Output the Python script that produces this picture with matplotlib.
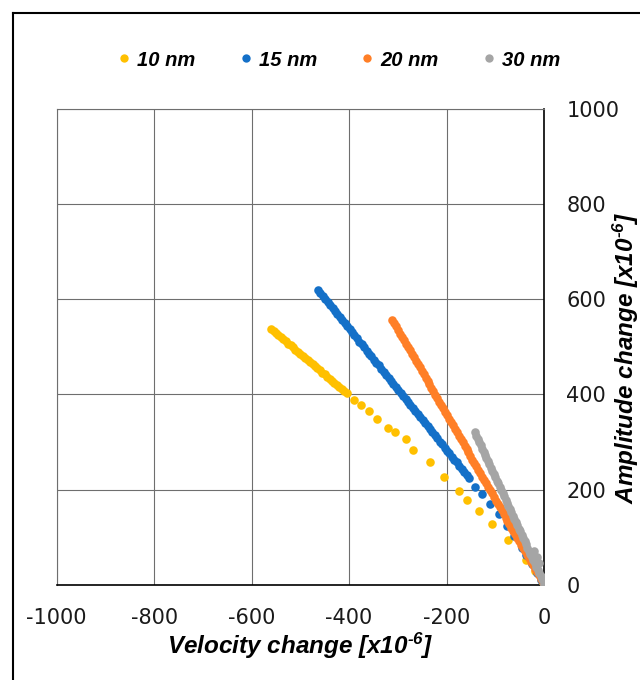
import matplotlib
matplotlib.use('Agg')
import matplotlib.pyplot as plt
from matplotlib.lines import Line2D

plt.rcParams['font.family'] = 'DejaVu Sans'
plt.rcParams['axes.unicode_minus'] = False
plt.rcParams['mathtext.fontset'] = 'custom'
plt.rcParams['mathtext.bf'] = 'Liberation Sans:italic:bold'
plt.rcParams['mathtext.default'] = 'bf'

# --- data (velocity change, amplitude change, x10^-6) ---
series_names = ['10 nm', '15 nm', '20 nm', '30 nm']
series_colors = ['#FFC000', '#1470C8', '#FF7F27', '#A5A5A5']

vel_10 = [-560, -555, -550, -545, -540, -535, -530, -525, -520, -515, -510, -505,
          -500, -495, -490, -485, -480, -475, -470, -465, -460, -455, -450, -445,
          -440, -435, -430, -425, -420, -415, -410, -405,
          -389, -375, -360, -343, -320, -306, -284, -269, -234, -205, -174, -157,
          -133, -106, -73, -36, -18, -5]
amp_10 = [538, 534, 529, 525, 521, 516, 512, 507, 503, 499, 494, 490,
          486, 481, 477, 472, 468, 464, 459, 455, 451, 446, 442, 437,
          433, 429, 424, 420, 416, 411, 407, 403,
          388, 377, 366, 348, 329, 322, 307, 284, 257, 227, 198, 178,
          154, 128, 94, 52, 28, 8]

vel_15 = [-464, -459, -454, -449, -444, -439, -434, -429, -424, -419, -414, -409,
          -404, -399, -394, -389, -384, -379, -374, -369, -364, -359, -354, -349,
          -344, -339, -334, -329, -324, -319, -314, -309, -304, -299, -294, -289,
          -284, -279, -274, -269, -264, -259, -254, -249, -244, -239, -234, -229,
          -224, -219, -214, -209, -204, -199, -194, -189, -184, -179, -174, -169,
          -164, -159, -154,
          -141, -127, -111, -93, -76, -62, -46, -36, -25, -15, -6]
amp_15 = [620, 614, 607, 601, 594, 588, 582, 575, 569, 563, 556, 550,
          543, 537, 531, 524, 518, 511, 505, 499, 492, 486, 480, 473,
          467, 461, 454, 448, 441, 435, 429, 422, 416, 410, 403, 397,
          390, 384, 378, 371, 365, 359, 352, 346, 339, 333, 327, 320,
          314, 308, 301, 295, 288, 282, 276, 269, 263, 257, 250, 244,
          237, 231, 225,
          206, 191, 169, 148, 124, 103, 78, 62, 43, 25, 10]

vel_20 = [-311, -307, -303, -299, -295, -291, -287, -283, -279, -275, -271, -267,
          -263, -259, -255, -251, -247, -243, -239, -235, -231, -227, -223, -219,
          -215, -211, -207, -203, -199, -195, -191, -187, -183, -179, -175, -171,
          -167, -163, -159, -155, -151, -147, -143, -139, -135, -131, -127, -123,
          -119, -115, -111, -107, -103, -99, -95, -91, -87, -83, -79, -75,
          -71, -67, -63, -59, -55, -51, -47, -43, -39, -35, -31, -27,
          -23, -19, -15, -11, -7, -3, 0]
amp_20 = [557, 550, 543, 536, 528, 521, 514, 507, 500, 493, 485, 478,
          471, 464, 457, 450, 442, 435, 428, 421, 414, 407, 399, 392,
          385, 378, 371, 364, 356, 349, 342, 335, 328, 321, 313, 306,
          299, 292, 285, 278, 270, 263, 256, 249, 242, 235, 227, 220,
          213, 206, 199, 192, 184, 177, 170, 163, 156, 149, 141, 134,
          127, 120, 113, 106, 99, 91, 84, 77, 70, 63, 56, 48,
          41, 34, 27, 20, 13, 5, 1]

vel_30 = [-142, -139, -136, -133, -130, -127, -124, -121, -118, -115, -112, -109,
          -106, -103, -100, -97, -94, -91, -88, -85, -82, -79, -76, -73,
          -70, -67, -64, -61, -58, -55, -52, -49, -46, -43, -40, -37,
          -34, -31, -28, -25, -22, -19, -16, -13, -10, -7, -4, -1,
          -20, -14, -10, 0]
amp_30 = [320, 313, 307, 300, 293, 286, 280, 273, 266, 260, 253, 246,
          239, 233, 226, 219, 213, 206, 199, 192, 186, 179, 172, 166,
          159, 152, 145, 139, 132, 125, 118, 112, 105, 98, 92, 85,
          78, 71, 65, 58, 51, 45, 38, 31, 24, 18, 11, 4,
          71, 58, 45, 0]

all_vel = [vel_10, vel_15, vel_20, vel_30]
all_amp = [amp_10, amp_15, amp_20, amp_30]

fig = plt.figure(figsize=(6.4, 6.8), dpi=100)
ax = fig.add_axes([56.7 / 640, 1 - 584.7 / 680, (544 - 56.7) / 640, (584.7 - 109) / 680])

for vx, ay, name, col in zip(all_vel, all_amp, series_names, series_colors):
    ax.scatter(vx, ay, s=38, color=col, linewidths=0, label=name, zorder=3)

ax.set_xlim(-1000, 0)
ax.set_ylim(0, 1000)
ax.set_xticks(range(-1000, 1, 200))
ax.set_yticks(range(0, 1001, 200))
ax.yaxis.tick_right()
ax.yaxis.set_label_position('right')
ax.tick_params(axis='both', length=0, labelsize=15, colors='#1a1a1a')
ax.tick_params(axis='x', pad=17)
ax.tick_params(axis='y', pad=16)

ax.grid(True, color='#6e6e6e', linewidth=0.8, zorder=0)
ax.set_axisbelow(True)
for side in ['top', 'left']:
    ax.spines[side].set_color('#6e6e6e')
    ax.spines[side].set_linewidth(0.8)
for side in ['bottom', 'right']:
    ax.spines[side].set_color('black')
    ax.spines[side].set_linewidth(1.2)

label_font = dict(family='Liberation Sans', weight='bold', style='italic', size=17.5)
ax.set_xlabel('Velocity change [x10$^{\u2010 6}$]', labelpad=2, **label_font)
ax.set_ylabel('Amplitude change [x10$^{\u2010 6}$]', rotation=90, ha='center', va='center',
              **label_font)
ax.yaxis.set_label_coords((626 - 56.7) / 487.3, (584.7 - 358) / 475.7)

handles = [Line2D([], [], marker='o', linestyle='none', markersize=6, markerfacecolor=c,
                  markeredgewidth=0) for c in series_colors]
fig.legend(handles, series_names, loc='center', bbox_to_anchor=(339 / 640, 1 - 60 / 680),
           ncol=4, frameon=False, handlelength=0.6, handletextpad=0.35, columnspacing=2.2,
           prop=dict(family='Liberation Sans', weight='bold', style='italic', size=14.5))

# outer chart border (left and top edges visible)
fig.add_artist(Line2D([13 / 640, 13 / 640], [0, 1 - 13 / 680], color='black', linewidth=1.5,
                      transform=fig.transFigure))
fig.add_artist(Line2D([13 / 640, 1], [1 - 13 / 680, 1 - 13 / 680], color='black', linewidth=1.5,
                      transform=fig.transFigure))

fig.savefig('out.png', dpi=100)
